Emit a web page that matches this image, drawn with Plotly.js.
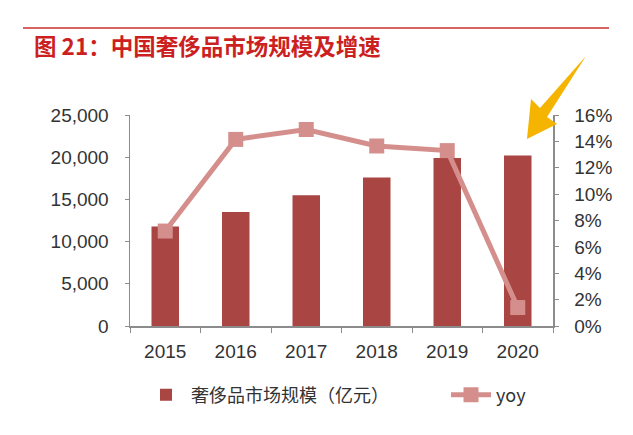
<!DOCTYPE html>
<html>
<head>
<meta charset="utf-8">
<script src="https://cdn.plot.ly/plotly-3.0.1.min.js"></script>
<style>html,body{margin:0;padding:0;background:#fff;}#chart{width:633px;height:435px;}</style>
</head>
<body>
<div id="chart"></div>
<script>
const years = ['2015', '2016', '2017', '2018', '2019', '2020'];
const marketSize = [11800, 13500, 15500, 17600, 19900, 20200];
const yoy = [0.072, 0.1415, 0.149, 0.1365, 0.133, 0.014];
const barName = '奢侈品市场规模（亿元）';
const lineName = 'yoy';
const titleText = '图 21：中国奢侈品市场规模及增速';

const W = 633, H = 435, L = 130, R = 80, T = 115, B = 109;
const pw = W - L - R, ph = H - T - B;
const px = x => (x - L) / pw;
const py = y => (H - B - y) / ph;

const arrowPts = [[586,56],[540,108],[531,99],[527,139],[557,124],[547,117]];
const arrowPath = 'M ' + arrowPts.map(p => px(p[0]).toFixed(4) + ',' + py(p[1]).toFixed(4)).join(' L ') + ' Z';

const font = 'Liberation Sans, Arial, Noto Sans CJK SC, sans-serif';
const axisCol = '#8c8c8c';
const tickFont = {family: font, size: 19, color: '#333'};
const legFont = {size: 18, color: '#333', family: 'Noto Sans CJK SC, Liberation Sans, sans-serif'};

const traces = [
  {type: 'bar', x: years, y: marketSize, name: barName, marker: {color: '#A94543'}, yaxis: 'y', width: 0.39, legend: 'legend'},
  {type: 'scatter', mode: 'lines+markers', x: years, y: yoy, name: lineName, yaxis: 'y2', legend: 'legend2',
   line: {color: '#D48F8D', width: 5}, marker: {symbol: 'square', size: 15, color: '#D48F8D'}}
];

const layout = {
  width: W, height: H,
  margin: {l: L, r: R, t: T, b: B},
  paper_bgcolor: '#fff', plot_bgcolor: '#fff',
  font: {family: font, size: 17, color: '#333'},
  showlegend: true,
  title: {text: titleText, x: 34 / W, xanchor: 'left', xref: 'container', y: 1 - 47 / H, yref: 'container', yanchor: 'middle',
    font: {family: 'Noto Sans CJK SC, sans-serif', size: 22.5, color: '#CC1F1F', weight: 'bold'}},
  xaxis: {type: 'category', tickson: 'boundaries', ticks: 'outside', ticklen: 5, tickcolor: axisCol,
    showline: true, linecolor: axisCol, linewidth: 1.5, showgrid: false, zeroline: false,
    tickfont: tickFont, ticklabelstandoff: 8},
  yaxis: {range: [0, 25000], dtick: 5000, tickformat: ',', ticks: 'outside', ticklen: 4, tickcolor: axisCol,
    showline: true, linecolor: axisCol, linewidth: 1.5, showgrid: false, zeroline: false,
    tickfont: tickFont, ticklabelstandoff: 12},
  yaxis2: {range: [0, 0.16], dtick: 0.02, tickformat: '.0%', overlaying: 'y', side: 'right',
    ticks: 'outside', ticklen: 4, tickcolor: axisCol, showline: true, linecolor: axisCol, linewidth: 1.5,
    showgrid: false, zeroline: false, tickfont: tickFont, ticklabelstandoff: 12},
  legend: {orientation: 'h', x: px(141), xanchor: 'left', y: py(395), yanchor: 'middle',
    font: legFont, itemwidth: 40},
  legend2: {orientation: 'h', x: px(446), xanchor: 'left', y: py(395), yanchor: 'middle',
    font: legFont, itemwidth: 40},
  shapes: [
    {type: 'line', xref: 'paper', yref: 'paper', x0: px(23), x1: px(609), y0: py(28), y1: py(28),
     line: {color: '#C9312F', width: 1.5}},
    {type: 'path', xref: 'paper', yref: 'paper', path: arrowPath, fillcolor: '#F5B400', line: {width: 0}}
  ]
};

Plotly.newPlot('chart', traces, layout, {displayModeBar: false, staticPlot: true});
</script>
</body>
</html>
